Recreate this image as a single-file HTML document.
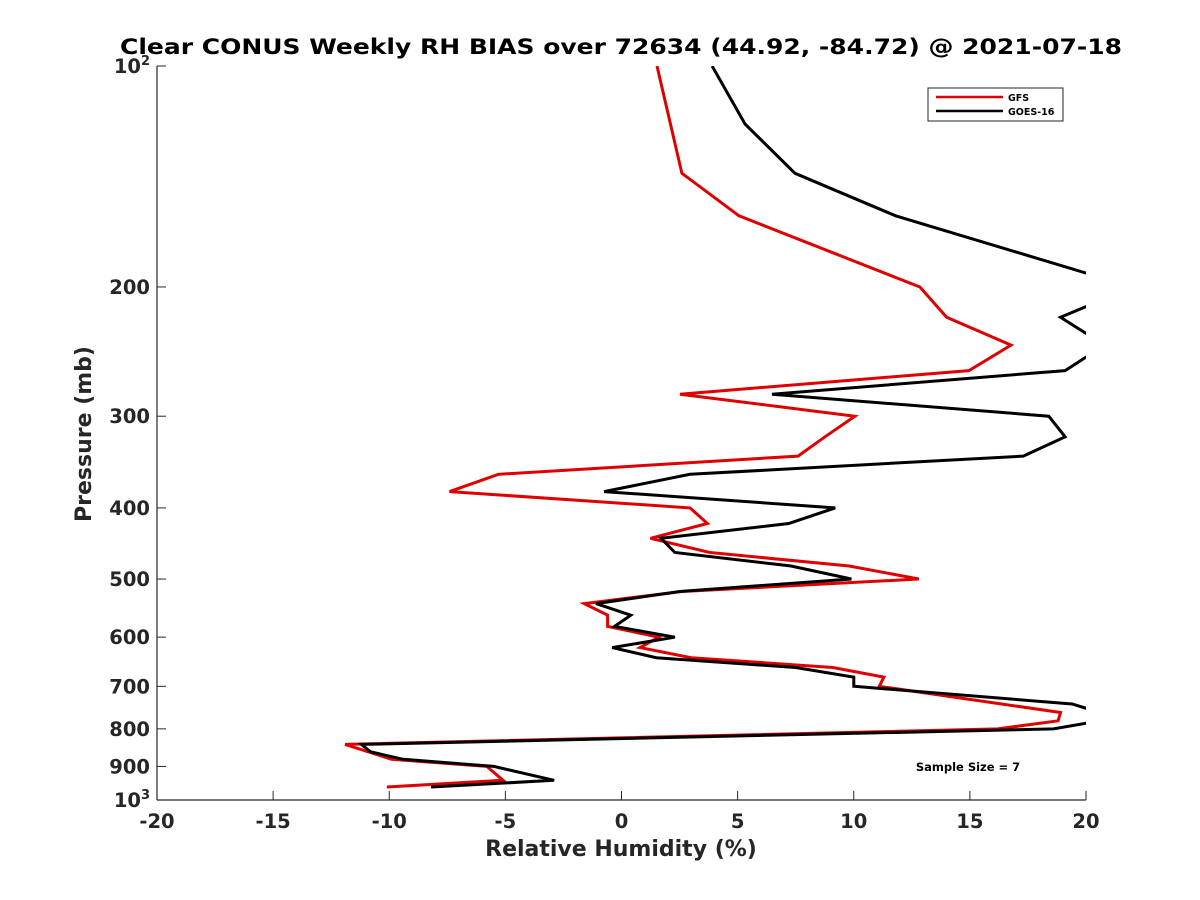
<!DOCTYPE html>
<html><head><meta charset="utf-8"><style>
html,body{margin:0;padding:0;background:#fff;}
svg{display:block;font-family:"DejaVu Sans","Liberation Sans",sans-serif;}
</style></head><body>
<svg id="chart" width="1200" height="900" viewBox="0 0 1200 900">
<defs><clipPath id="plotclip"><rect x="157" y="66" width="929" height="734"/></clipPath></defs>
<text x="621" y="54" text-anchor="middle" font-size="21" font-weight="bold" fill="#000" textLength="1002" lengthAdjust="spacingAndGlyphs">Clear CONUS Weekly RH BIAS over 72634 (44.92, -84.72) @ 2021-07-18</text>
<g id="axes"></g>
<g id="series" clip-path="url(#plotclip)"></g>
<g>
<rect x="928" y="88" width="135" height="33" fill="#fff" stroke="#262626" stroke-width="1"/>
<line x1="936" y1="97" x2="1003" y2="97" stroke="#e00000" stroke-width="2.5"/>
<text x="1008" y="101" font-size="9.5" font-weight="bold" fill="#000">GFS</text>
<line x1="936" y1="111" x2="1003" y2="111" stroke="#000" stroke-width="2.5"/>
<text x="1008" y="115" font-size="9.5" font-weight="bold" fill="#000">GOES-16</text>
</g>
<text x="968" y="771" text-anchor="middle" font-size="11.5" font-weight="bold" fill="#000">Sample Size = 7</text>
<text x="621" y="856" text-anchor="middle" font-size="22" font-weight="bold" fill="#262626">Relative Humidity (%)</text>
<text transform="translate(91,434) rotate(-90)" text-anchor="middle" font-size="22" font-weight="bold" fill="#262626">Pressure (mb)</text>
</svg>
<script>
const xTicks = [-20,-15,-10,-5,0,5,10,15,20];
const yTicks = [200,300,400,500,600,700,800,900];
const gfsPressure = [100,140,160,200,220,240,260,280,300,320,340,360,380,400,420,440,460,480,500,520,540,560,580,600,620,640,660,680,700,760,780,800,840,880,900,940,960];
const gfsBias = [1.53,2.6,5.06,12.85,14.0,16.77,14.96,2.52,10.05,8.76,7.6,-5.3,-7.4,2.95,3.7,1.25,3.8,9.8,12.8,2.6,-1.6,-0.6,-0.6,1.6,0.8,3.0,9.1,11.3,11.1,18.9,18.8,16.2,-11.9,-9.9,-5.8,-5.1,-10.1];
const goesPressure = [100,120,140,160,200,220,240,260,280,300,320,340,360,380,400,420,440,460,480,500,520,540,560,580,600,620,640,660,680,700,740,760,780,800,840,860,880,900,940,960];
const goesBias = [3.9,5.32,7.47,11.8,22,18.9,20.8,19.1,6.48,18.4,19.1,17.3,2.95,-0.75,9.2,7.2,1.7,2.3,7.3,9.9,2.5,-1.1,0.4,-0.3,2.3,-0.4,1.5,7.5,10.0,10.0,19.4,20.6,20.6,18.6,-11.2,-10.8,-9.4,-5.5,-2.9,-8.2];

const L=157,R=1086,T=66,B=800;
const xs=v=>L+(v+20)/40*(R-L);
const ys=p=>T+Math.log10(p/100)*(B-T);
const NS="http://www.w3.org/2000/svg";
function mk(tag,attrs,parent){const e=document.createElementNS(NS,tag);for(const k in attrs)e.setAttribute(k,attrs[k]);parent.appendChild(e);return e;}
const axes=document.getElementById('axes');
let a=mk('line',{x1:L,y1:T,x2:L,y2:B,stroke:'#262626','stroke-width':1.2},axes);


a=mk('line',{x1:L,y1:B,x2:R,y2:B,stroke:'#262626','stroke-width':1.2},axes);


xTicks.forEach(v=>{
  const x=xs(v);
  const t=mk('line',{x1:x,y1:B,x2:x,y2:B-9,stroke:'#262626','stroke-width':1},axes);
  
  
  const l=mk('text',{x:x,y:828,'text-anchor':'middle','font-size':19.5,'font-weight':'bold',fill:'#262626'},axes);
  l.textContent=String(v);
  
  
});
[100].concat(yTicks,[1000]).forEach(p=>{
  const y=ys(p);
  const t=mk('line',{x1:L,y1:y,x2:L+9,y2:y,stroke:'#262626','stroke-width':1},axes);
  
  
  const l=mk('text',{x:150,y:y+7,'text-anchor':'end','font-size':19.5,'font-weight':'bold',fill:'#262626'},axes);
  if(p===100){l.innerHTML='10<tspan font-size="13" dy="-8">2</tspan>';}
  else if(p===1000){l.innerHTML='10<tspan font-size="13" dy="-8">3</tspan>';}
  else l.textContent=String(p);
  
  
});
const series=document.getElementById('series');
function draw(pr,vals,color,name){
  const pts=pr.map((p,i)=>xs(vals[i]).toFixed(1)+','+ys(p).toFixed(1)).join(' ');
  const pl=mk('polyline',{points:pts,fill:'none',stroke:color,'stroke-width':3,'stroke-linejoin':'miter'},series);
  
  
}
draw(gfsPressure,gfsBias,'#e00000','gfs-line');
draw(goesPressure,goesBias,'#000000','goes16-line');
</script>
</body></html>
